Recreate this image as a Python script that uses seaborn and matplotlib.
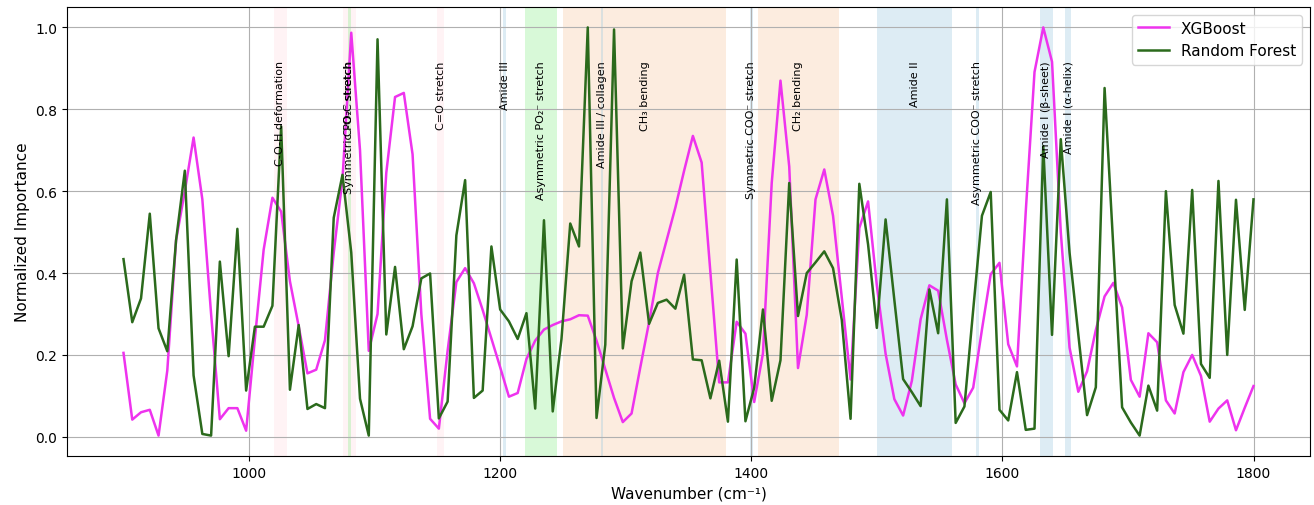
import numpy as np
import matplotlib
matplotlib.use("Agg")
import matplotlib.pyplot as plt
import seaborn as sns

# wavenumber grid (cm^-1), 130 samples from 900 to 1800
wavenumber = np.linspace(900, 1800, 130)

xgb_importance = [
    0.205, 0.042, 0.060, 0.066, 0.003, 0.162, 0.480, 0.600, 0.731, 0.580,
    0.300, 0.043, 0.070, 0.070, 0.015, 0.240, 0.457, 0.584, 0.550, 0.380,
    0.270, 0.155, 0.164, 0.236, 0.450, 0.630, 0.987, 0.700, 0.210, 0.300,
    0.645, 0.830, 0.840, 0.690, 0.300, 0.044, 0.020, 0.210, 0.378, 0.412,
    0.375, 0.310, 0.240, 0.170, 0.098, 0.107, 0.190, 0.235, 0.262, 0.273,
    0.282, 0.287, 0.297, 0.296, 0.235, 0.165, 0.095, 0.036, 0.057, 0.170,
    0.280, 0.400, 0.480, 0.560, 0.650, 0.735, 0.670, 0.400, 0.133, 0.133,
    0.281, 0.252, 0.085, 0.204, 0.620, 0.870, 0.660, 0.168, 0.298, 0.580,
    0.653, 0.540, 0.340, 0.140, 0.510, 0.575, 0.370, 0.203, 0.092, 0.052,
    0.137, 0.287, 0.370, 0.357, 0.237, 0.128, 0.082, 0.120, 0.262, 0.397,
    0.425, 0.226, 0.172, 0.550, 0.891, 1.000, 0.916, 0.500, 0.218, 0.110,
    0.160, 0.261, 0.343, 0.376, 0.316, 0.139, 0.098, 0.253, 0.231, 0.089,
    0.057, 0.158, 0.200, 0.149, 0.037, 0.069, 0.089, 0.016, 0.071, 0.124,
]

rf_importance = [
    0.434, 0.280, 0.338, 0.545, 0.265, 0.209, 0.480, 0.650, 0.150, 0.007,
    0.003, 0.428, 0.197, 0.508, 0.113, 0.269, 0.269, 0.320, 0.758, 0.115,
    0.273, 0.068, 0.080, 0.070, 0.535, 0.640, 0.450, 0.093, 0.003, 0.971,
    0.250, 0.415, 0.214, 0.270, 0.387, 0.399, 0.045, 0.086, 0.492, 0.627,
    0.095, 0.113, 0.465, 0.311, 0.282, 0.239, 0.302, 0.069, 0.529, 0.062,
    0.239, 0.521, 0.465, 1.000, 0.046, 0.225, 0.995, 0.216, 0.380, 0.450,
    0.276, 0.327, 0.335, 0.313, 0.396, 0.189, 0.187, 0.094, 0.186, 0.037,
    0.433, 0.038, 0.120, 0.311, 0.088, 0.187, 0.620, 0.295, 0.400, 0.426,
    0.453, 0.412, 0.285, 0.044, 0.618, 0.470, 0.266, 0.531, 0.334, 0.141,
    0.109, 0.075, 0.360, 0.253, 0.580, 0.034, 0.074, 0.310, 0.540, 0.598,
    0.066, 0.040, 0.158, 0.017, 0.020, 0.710, 0.249, 0.727, 0.450, 0.250,
    0.053, 0.121, 0.852, 0.460, 0.072, 0.035, 0.003, 0.125, 0.064, 0.600,
    0.322, 0.252, 0.603, 0.178, 0.144, 0.625, 0.200, 0.579, 0.310, 0.580,
]

# spectral band assignments
band_start = [1020, 1075, 1079, 1150, 1202, 1220, 1250, 1280, 1399, 1405, 1500, 1579, 1630, 1650]
band_end = [1030, 1085, 1081, 1155, 1205, 1245, 1380, 1282, 1401, 1470, 1560, 1581, 1640, 1655]
band_labels = [
    "C-O-H deformation", "C-O-C stretch", "Symmetric PO\u2082\u207b stretch", "C=O stretch",
    "Amide III", "Asymmetric PO\u2082\u207b stretch", "CH\u2083 bending", "Amide III / collagen",
    "Symmetric COO\u207b stretch", "CH\u2082 bending", "Amide II", "Asymmetric COO\u207b stretch",
    "Amide I (\u03b2-sheet)", "Amide I (\u03b1-helix)",
]
band_group = ["carb", "carb", "nucleic", "carb", "protein", "nucleic", "lipid", "protein",
              "protein", "lipid", "protein", "protein", "protein", "protein"]
group_colors = {"carb": "pink", "nucleic": "lightgreen", "lipid": "sandybrown", "protein": "#9ecae1"}
group_alpha = {"carb": 0.18, "nucleic": 0.35, "lipid": 0.2, "protein": 0.35}

fig, ax = plt.subplots(figsize=(13.14, 5.06), dpi=100)
fig.subplots_adjust(left=67/1314, right=1310/1314, top=1-8/506, bottom=1-457/506)

for s, e, g in zip(band_start, band_end, band_group):
    ax.axvspan(s, e, color=group_colors[g], alpha=group_alpha[g], lw=0)

sns.lineplot(x=wavenumber, y=xgb_importance, color="#ee33ee", lw=1.8, label="XGBoost", ax=ax)
sns.lineplot(x=wavenumber, y=rf_importance, color="#2b6a1c", lw=1.8, label="Random Forest", ax=ax)

for s, e, lab in zip(band_start, band_end, band_labels):
    ax.text((s + e) / 2, 0.92, lab, rotation=90, va="top", ha="center", fontsize=8)

ax.grid(True)
ax.set_xlabel("Wavenumber (cm\u207b\u00b9)", fontsize=11)
ax.set_ylabel("Normalized Importance", fontsize=11)
ax.legend(loc="upper right", fontsize=11)

fig.savefig("out.png", dpi=100)
